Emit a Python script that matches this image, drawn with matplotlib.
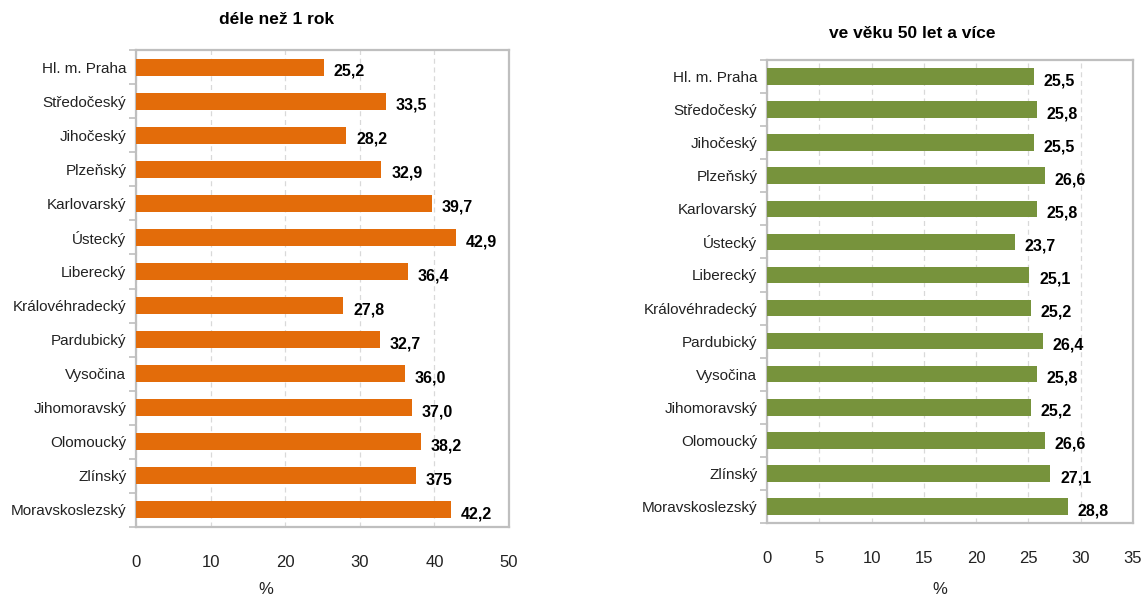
import matplotlib
matplotlib.use("Agg")
import matplotlib.pyplot as plt
import numpy as np
from matplotlib import font_manager

regions = ["Hl. m. Praha", "Středočeský", "Jihočeský", "Plzeňský", "Karlovarský",
           "Ústecký", "Liberecký", "Královéhradecký", "Pardubický", "Vysočina",
           "Jihomoravský", "Olomoucký", "Zlínský", "Moravskoslezský"]
long_term = [25.2, 33.5, 28.2, 32.9, 39.7, 42.9, 36.4, 27.8, 32.7, 36.0, 37.0, 38.2, 37.5, 42.2]
long_term_labels = ["25,2", "33,5", "28,2", "32,9", "39,7", "42,9", "36,4", "27,8",
                    "32,7", "36,0", "37,0", "38,2", "375", "42,2"]
age50 = [25.5, 25.8, 25.5, 26.6, 25.8, 23.7, 25.1, 25.2, 26.4, 25.8, 25.2, 26.6, 27.1, 28.8]
age50_labels = ["25,5", "25,8", "25,5", "26,6", "25,8", "23,7", "25,1", "25,2",
                "26,4", "25,8", "25,2", "26,6", "27,1", "28,8"]
ticks_left = [0, 10, 20, 30, 40, 50]
ticks_right = [0, 5, 10, 15, 20, 25, 30, 35]

names = {f.name for f in font_manager.fontManager.ttflist}
fam = ["Liberation Sans Narrow", "DejaVu Sans"] if "Liberation Sans Narrow" in names else ["Liberation Sans", "DejaVu Sans"]
plt.rcParams['font.family'] = fam

fig = plt.figure(figsize=(11.47, 5.98), dpi=100)
W, H = 1147, 598

def panel(rect, values, labels, color, xticks, lab_off):
    ax = fig.add_axes(rect)
    y = np.arange(len(regions))
    ax.barh(y, values, height=0.5, color=color, zorder=3)
    ax.set_ylim(len(regions) - 0.5, -0.5)
    ax.set_xlim(xticks[0], xticks[-1])
    ax.set_xticks(xticks)
    ax.set_yticks(y)
    ax.set_yticklabels(regions, fontsize=11, color="#222222")
    ax.set_yticks(np.arange(len(regions) + 1) - 0.5, minor=True)
    ax.tick_params(axis='y', which='major', length=0, pad=7)
    ax.tick_params(axis='y', which='minor', length=5, color="#bfbfbf", width=1.2)
    ax.tick_params(axis='x', length=0, pad=20, labelsize=12, labelcolor="#222222")
    ax.grid(axis='x', linestyle=(0, (4, 3)), color="#d9d9d9", linewidth=0.9, zorder=0)
    for s in ax.spines.values():
        s.set_color("#bfbfbf")
        s.set_linewidth(1.6)
    for yi, v, t in zip(y, values, labels):
        ax.annotate(t, (v, yi), xytext=(lab_off, -3), textcoords="offset points",
                    ha="left", va="center", fontsize=11.5, fontweight="bold", color="black")
    return ax

ax1 = panel([136 / W, 1 - 527 / H, (509 - 136) / W, (527 - 50) / H],
            long_term, long_term_labels, "#E36C0A", ticks_left, 7)
ax2 = panel([767 / W, 1 - 523 / H, (1133 - 767) / W, (523 - 60) / H],
            age50, age50_labels, "#77933C", ticks_right, 7)

fig.text(277 / W, 1 - 20 / H, "déle než 1 rok", ha="center", va="center",
         fontsize=12.5, fontweight="bold")
fig.text(912 / W, 1 - 33 / H, "ve věku 50 let a více", ha="center", va="center",
         fontsize=12.5, fontweight="bold")
fig.text(266 / W, 1 - 590 / H, "%", ha="center", va="center", fontsize=12, color="#222222")
fig.text(940 / W, 1 - 590 / H, "%", ha="center", va="center", fontsize=12, color="#222222")

fig.savefig("out.png", dpi=100)
